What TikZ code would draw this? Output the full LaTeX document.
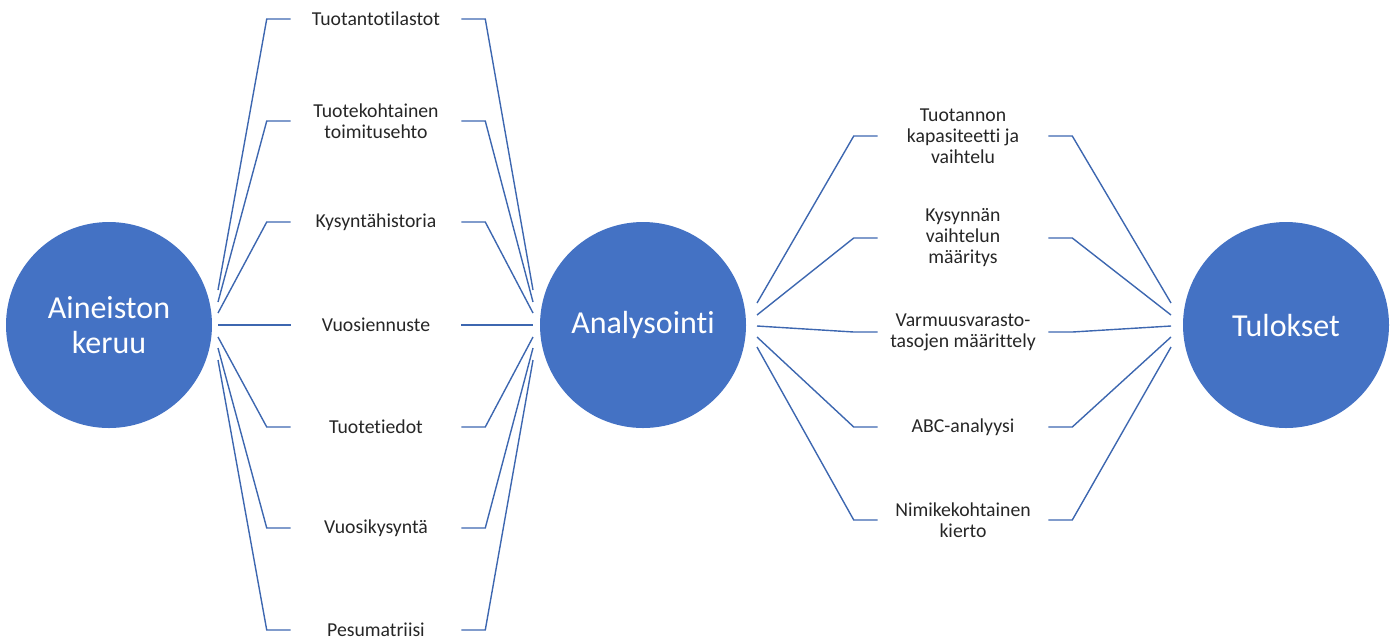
\documentclass[tikz,border=0pt]{standalone}
\usepackage{fontspec}
\setmainfont{Carlito}[Ligatures=NoCommon]
\usetikzlibrary{positioning}

\definecolor{ofblue}{HTML}{4472C4}
\tikzset{
  phase/.style={circle, fill=ofblue, minimum size=154.5pt, inner sep=0pt, text=white,
    align=center, font=\fontsize{24}{26.25}\selectfont},
  item/.style={minimum width=127.5pt, inner sep=0pt, align=center, text=black!85,
    font=\fontsize{14.8}{15.75}\selectfont},
  link/.style={draw=ofblue!90!black, line width=1.05pt},
}

\begin{document}
\begin{tikzpicture}[x=0.75pt, y=-0.75pt]
  \useasboundingbox (0,0) rectangle (1394,637);

  % the three phases
  \node[phase] (keruu) at (109,325) {Aineiston\\keruu};
  \node[phase] (analyysi) at (643,325) {Analysointi};
  \node[phase] (tulokset) at (1286,325) {Tulokset};

  % collected material
  \node[item] (l1) at (376,19) {Tuotantotilastot};
  \node[item] (l2) at (376,121) {Tuotekohtainen\\toimitusehto};
  \node[item] (l3) at (376,222) {Kysyntähistoria};
  \node[item] (l4) at (376,325) {Vuosiennuste};
  \node[item] (l5) at (376,427) {Tuotetiedot};
  \node[item] (l6) at (376,528) {Vuosikysyntä};
  \node[item] (l7) at (376,630) {Pesumatriisi};

  % analysis steps
  \node[item] (r1) at (963,136) {Tuotannon\\kapasiteetti ja\\vaihtelu};
  \node[item] (r2) at (963,238) {Kysynnän\\vaihtelun\\määritys};
  \node[item] (r3) at (963,332) {Varmuusvarasto-\\tasojen määrittely};
  \node[item] (r4) at (963,427) {ABC-analyysi};
  \node[item] (r5) at (963,520) {Nimikekohtainen\\kierto};

  % fan ends next to the circles
  \foreach \i/\y in {1/290,2/302,3/313,4/325,5/337,6/348,7/360}{
    \coordinate (kr-\i) at (218,\y);
    \coordinate (al-\i) at (533,\y);
  }
  \foreach \i/\y in {1/303,2/315,3/326,4/337,5/347}{
    \coordinate (ar-\i) at (757,\y);
    \coordinate (tl-\i) at (1171,\y);
  }

  % connectors
  \foreach \i in {1,...,7}{
    \draw[link] (kr-\i) -- ([xshift=-18pt]l\i.west) -- (l\i.west);
    \draw[link] (l\i.east) -- ([xshift=18pt]l\i.east) -- (al-\i);
  }
  \foreach \i in {1,...,5}{
    \draw[link] (ar-\i) -- ([xshift=-18pt]r\i.west) -- (r\i.west);
    \draw[link] (r\i.east) -- ([xshift=18pt]r\i.east) -- (tl-\i);
  }
\end{tikzpicture}
\end{document}
